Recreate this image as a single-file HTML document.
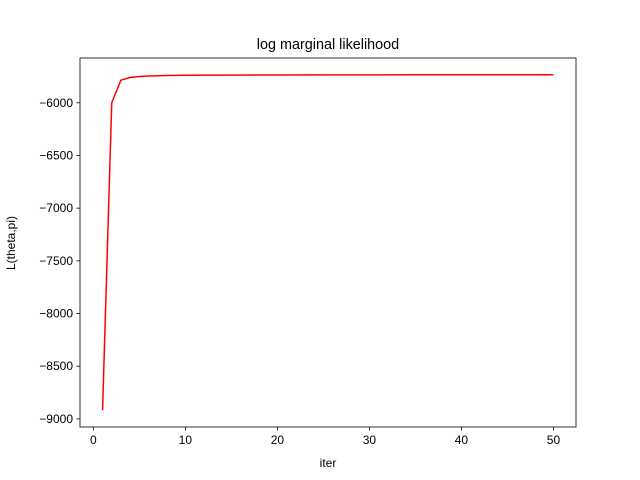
<!DOCTYPE html>
<html><head><meta charset="utf-8">
<style>
body{margin:0;background:#fff;}
svg{display:block;font-family:"Liberation Sans","DejaVu Sans",sans-serif;}
</style></head>
<body>
<svg id="chart" width="640" height="480">
<rect x="0" y="0" width="640" height="480" fill="#fff"/>
<text x="328" y="49" text-anchor="middle" font-size="14.4">log marginal likelihood</text>
<g id="xticks"></g>
<g id="yticks"></g>
<path id="line" fill="none" stroke="#ff0000" stroke-width="1.5"/>
<rect x="80" y="58" width="496" height="369" fill="none" stroke="#000" stroke-width="0.8"/>
<text x="328" y="467" text-anchor="middle" font-size="12">iter</text>
<text transform="translate(15,243) rotate(-90)" text-anchor="middle" font-size="12">L(theta,pi)</text>
</svg>
<script>
const iters=[1,2,3,4,5,6,7,8,9,10,12,15,20,25,30,35,40,45,50];
const values=[-8918,-6000,-5785,-5760,-5751,-5746,-5743,-5741,-5740,-5739,-5738,-5737,-5736,-5735,-5735,-5734,-5734,-5734,-5734];
const xTickVals=[0,10,20,30,40,50];
const yTickVals=[-9000,-8500,-8000,-7500,-7000,-6500,-6000];
const NS="http://www.w3.org/2000/svg";
const L=80,R=576,T=58,B=427;
const xmin=-1.45,xmax=52.45,ymin=-9077,ymax=-5575;
const sx=v=>L+(v-xmin)/(xmax-xmin)*(R-L);
const sy=v=>B-(v-ymin)/(ymax-ymin)*(B-T);
function mk(tag,attrs,parent){const e=document.createElementNS(NS,tag);for(const k in attrs)e.setAttribute(k,attrs[k]);parent.appendChild(e);return e;}
const gx=document.getElementById('xticks'),gy=document.getElementById('yticks');
xTickVals.forEach(v=>{const x=sx(v);
const t=mk('line',{x1:x,x2:x,y1:B,y2:B+3.5,stroke:'#000','stroke-width':0.8},gx);


const l=mk('text',{x:x,y:B+17,'text-anchor':'middle','font-size':12},gx);l.textContent=v;

});
yTickVals.forEach(v=>{const y=sy(v);
const t=mk('line',{x1:L-3.5,x2:L,y1:y,y2:y,stroke:'#000','stroke-width':0.8},gy);


const l=mk('text',{x:L-7,y:y+4,'text-anchor':'end','font-size':12},gy);l.textContent='\u2212'+Math.abs(v);

});
document.getElementById('line').setAttribute('d',iters.map((v,i)=>(i?'L':'M')+sx(v).toFixed(2)+' '+sy(values[i]).toFixed(2)).join(' '));
</script>
</body></html>
